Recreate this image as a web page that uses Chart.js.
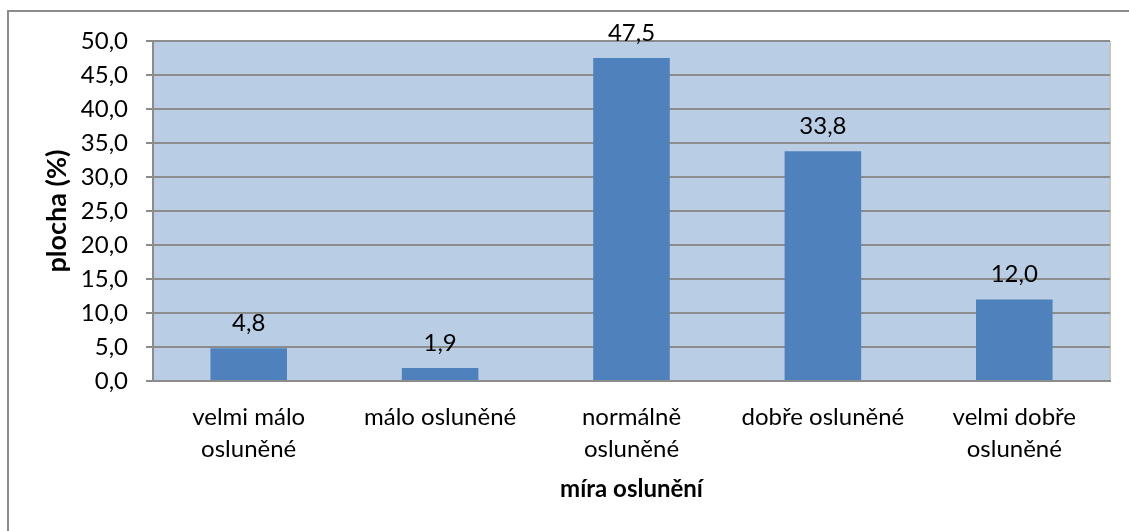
<!DOCTYPE html>
<html>
<head>
<meta charset="utf-8">
<script src="https://cdn.jsdelivr.net/npm/chart.js@4/dist/chart.umd.min.js"></script>
<style>
    html, body { margin: 0; padding: 0; background: #ffffff; }
    #chartWrapper { width: 1129px; height: 531px; position: relative; }
</style>
</head>
<body>
<div id="chartWrapper">
    <canvas id="sunChart"></canvas>
</div>
<script>
const categories = [
    ['velmi málo', 'osluněné'],
    'málo osluněné',
    ['normálně', 'osluněné'],
    'dobře osluněné',
    ['velmi dobře', 'osluněné']
];
const plochaValues = [4.8, 1.9, 47.5, 33.8, 12.0];
const yTickValues = [0, 5, 10, 15, 20, 25, 30, 35, 40, 45, 50];

const fontFamily = 'Lato, "Open Sans", sans-serif';

function formatCz(v) {
    return Number(v).toFixed(1).replace('.', ',');
}

// pozadí plochy grafu a rámeček kolem celého obrázku
const plotBackground = {
    id: 'plotBackground',
    beforeDraw(chart) {
        const { ctx, chartArea } = chart;
        ctx.save();
        ctx.fillStyle = '#B9CDE5';
        ctx.fillRect(chartArea.left, chartArea.top, chartArea.right - chartArea.left, chartArea.bottom - chartArea.top);
        ctx.strokeStyle = '#C4C4C4';
        ctx.lineWidth = 2;
        ctx.beginPath();
        ctx.moveTo(chartArea.right, chartArea.top);
        ctx.lineTo(chartArea.right, chartArea.bottom);
        ctx.stroke();
        // vnější rámeček
        ctx.strokeStyle = '#8C8C8C';
        ctx.lineWidth = 2;
        ctx.strokeRect(8, 11, chart.width + 20, chart.height + 20);
        ctx.restore();
    }
};

// hodnoty nad sloupci
const barValues = {
    id: 'barValues',
    afterDatasetsDraw(chart) {
        const { ctx } = chart;
        const meta = chart.getDatasetMeta(0);
        ctx.save();
        ctx.fillStyle = '#000000';
        ctx.font = '24px ' + fontFamily;
        ctx.textAlign = 'center';
        ctx.textBaseline = 'middle';
        meta.data.forEach((bar, i) => {
            ctx.fillText(formatCz(plochaValues[i]), bar.x, bar.y - 25);
        });
        ctx.restore();
    }
};

const ctx = document.getElementById('sunChart').getContext('2d');

const sunChart = new Chart(ctx, {
    type: 'bar',
    data: {
        labels: categories,
        datasets: [{
            label: 'plocha (%)',
            data: plochaValues,
            backgroundColor: '#4F81BD',
            borderWidth: 0,
            categoryPercentage: 1,
            barPercentage: 0.4
        }]
    },
    options: {
        responsive: true,
        maintainAspectRatio: false,
        animation: false,
        layout: {
            padding: { left: 0, top: 41, right: 19, bottom: 0 }
        },
        plugins: {
            legend: { display: false },
            tooltip: { enabled: false }
        },
        scales: {
            x: {
                grid: { display: false, drawTicks: false },
                border: { display: true, color: '#8C8C8C', width: 2 },
                ticks: {
                    color: '#000000',
                    font: { family: fontFamily, size: 24, lineHeight: 1.333 },
                    padding: 20,
                    maxRotation: 0,
                    autoSkip: false
                },
                title: {
                    display: true,
                    text: 'míra oslunění',
                    color: '#000000',
                    font: { family: fontFamily, size: 24, weight: 'bold', lineHeight: 1.2 },
                    padding: { top: 0, bottom: 27 }
                },
                afterFit(scale) {
                    scale.height = 150;
                }
            },
            y: {
                min: 0,
                max: 50,
                afterBuildTicks(scale) {
                    scale.ticks = yTickValues.map(v => ({ value: v }));
                },
                grid: {
                    color: '#8C8C8C',
                    lineWidth: 2,
                    tickLength: 7,
                    drawTicks: true
                },
                border: { display: true, color: '#8C8C8C', width: 2 },
                ticks: {
                    color: '#000000',
                    font: { family: fontFamily, size: 24 },
                    padding: 18,
                    callback: function (value) {
                        return formatCz(value);
                    }
                },
                title: {
                    display: true,
                    text: 'plocha (%)',
                    color: '#000000',
                    font: { family: fontFamily, size: 27, weight: 'bold', lineHeight: 1.2 },
                    padding: { top: 41, bottom: 0 }
                },
                afterFit(scale) {
                    scale.width = 153;
                }
            }
        }
    },
    plugins: [plotBackground, barValues]
});
</script>
</body>
</html>
